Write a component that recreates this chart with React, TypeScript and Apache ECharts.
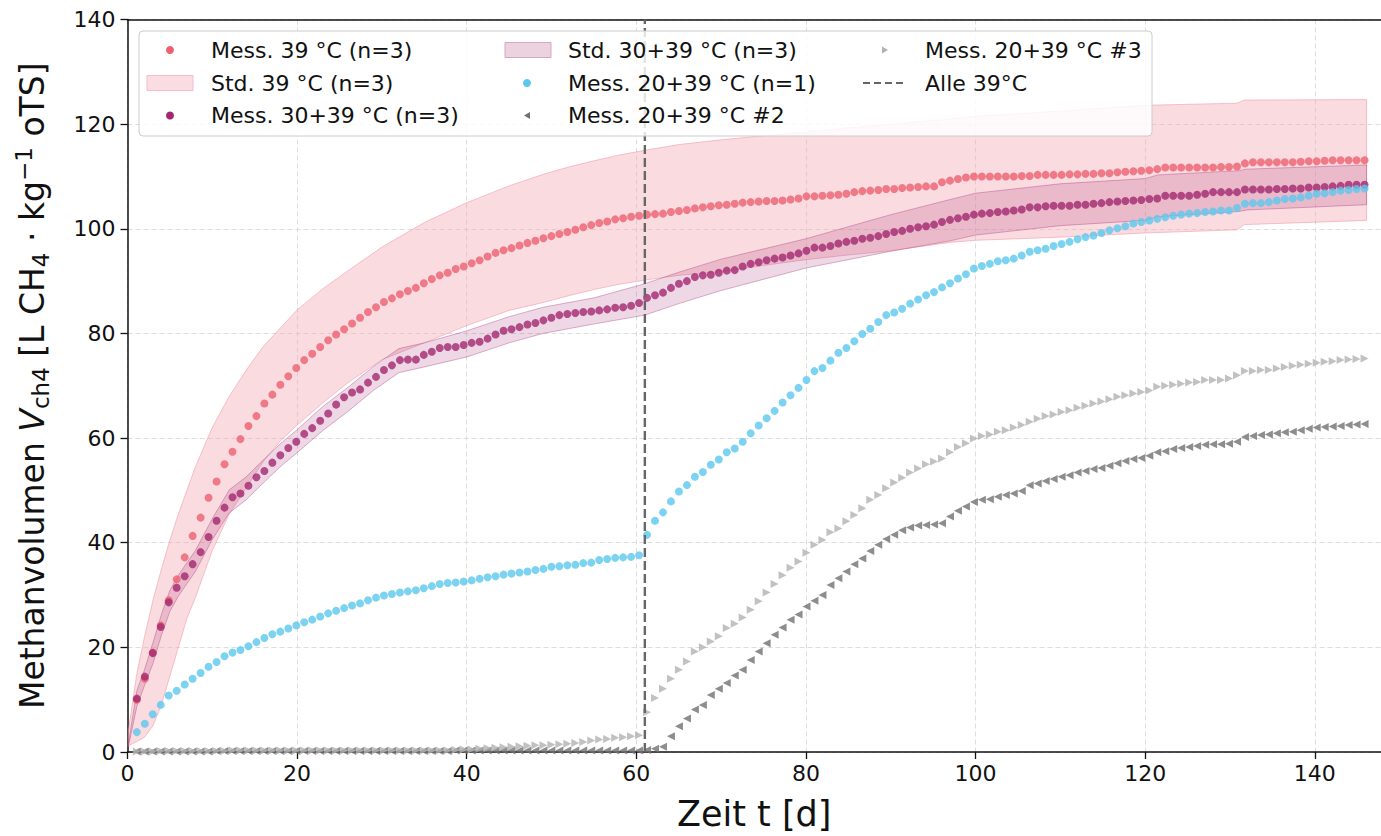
import React, { useEffect, useRef } from "react";
import * as echarts from "echarts";

const FONT = "DejaVu Sans";

// Sampling grid of the measurements (days)
const T_START = 1.1;
const T_STEP = 0.94;

const mess39 = [
  10.0, 14.0, 19.0, 24.2, 29.0,
  33.0, 37.2, 41.3, 44.8, 48.6, 51.7, 55.0, 57.4, 59.8, 62.3, 64.2, 66.6, 68.3, 70.2, 71.8, 73.4, 74.9, 76.1, 77.4, 78.7,
  79.8, 80.8, 81.9, 83.0, 84.1, 85.0, 86.0, 86.7, 87.5, 88.1, 88.7, 89.6, 90.4, 91.1, 91.6, 92.3, 92.8, 93.4, 94.0, 94.7,
  95.4, 95.9, 96.3, 96.8, 97.3, 97.7,
  98.2, 98.6, 99.0, 99.4, 99.8, 100.3, 100.7, 101.1, 101.4, 101.8, 102.0, 102.3, 102.5, 102.7, 102.8, 102.9, 103.2, 103.4,
  103.6, 103.9, 104.1, 104.3, 104.5, 104.6, 104.8, 105.0, 105.1, 105.2, 105.3, 105.3, 105.4, 105.6, 105.8, 106.2, 106.2,
  106.3, 106.4, 106.5, 106.7, 107.0, 107.2, 107.3, 107.4, 107.6, 107.6, 107.8, 107.9, 108.0, 108.1, 108.1, 108.9, 109.2, 109.5,
  109.8, 110.0, 110.0, 110.0, 110.0, 110.0, 110.0, 110.1, 110.1, 110.3, 110.3, 110.3, 110.3, 110.4, 110.4, 110.5, 110.5,
  110.6, 110.6, 110.8, 110.9, 111.0, 111.1, 111.2, 111.4, 111.7, 111.7, 111.7, 111.7, 111.7, 111.7, 111.7, 111.8, 111.8,
  111.9, 112.5, 112.7, 112.7, 112.7, 112.7, 112.7, 112.7, 112.8, 112.9, 112.9, 113.0, 113.1, 113.1, 113.1, 113.1, 113.1,
];

const mess3039 = [
  10.2, 14.4, 18.9, 23.9, 28.6, 31.4, 33.6, 35.9, 38.2, 41.1, 44.2, 46.7, 48.7, 49.4, 50.9, 52.5, 53.7, 55.3, 56.7, 58.1,
  59.3, 60.8, 61.9, 63.3, 64.7, 66.4, 67.8, 68.7, 69.3, 70.6, 71.7, 73.0, 73.9, 74.9, 75.0, 75.0, 75.9, 76.5, 77.2, 77.4,
  77.4, 77.8, 78.2, 78.4, 79.0, 79.8, 80.5, 80.8, 81.2, 81.7, 82.0,
  82.5, 83.0, 83.5, 83.7, 83.9, 84.1, 84.2, 84.4, 84.6, 84.9, 85.0, 85.3, 85.8, 86.8, 87.3, 87.8, 88.7, 89.5, 90.0, 90.8,
  91.1, 91.2, 91.6, 92.0, 92.1, 92.8, 93.3, 93.6, 94.0, 94.3, 94.5, 94.9, 95.3, 95.8, 96.4, 96.4, 96.7, 97.2, 97.5, 97.7,
  98.1, 98.3, 98.6, 99.0, 99.4, 99.6, 100.0, 100.3, 100.5, 100.8, 101.3, 101.7, 102.0,
  102.3, 102.7, 102.9, 103.0, 103.2, 103.3, 103.5, 103.7, 104.1, 104.1, 104.3, 104.4, 104.4, 104.4, 104.6, 104.6, 104.8,
  104.9, 105.1, 105.2, 105.3, 105.4, 105.5, 105.7, 105.8, 106.3, 106.3, 106.3, 106.3, 106.5, 106.7, 107.0, 107.0, 107.0,
  107.0, 107.5, 107.5, 107.5, 107.5, 107.6, 107.6, 107.7, 107.7, 107.9, 107.9, 108.0, 108.1, 108.2, 108.4, 108.4, 108.4,
];

const mess2039 = [
  3.8, 5.4, 7.2, 9.0, 10.8, 11.7, 12.9, 14.0, 15.1, 16.3, 17.2, 18.3, 19.0, 19.5, 20.2, 21.0, 21.8, 22.5, 23.0, 23.6,
  24.2, 24.8, 25.3, 25.9, 26.5, 27.0, 27.5, 28.0, 28.4, 29.0, 29.5, 29.9, 30.2, 30.5, 30.7, 30.9, 31.3, 31.7, 32.1, 32.3,
  32.4, 32.6, 32.8, 33.1, 33.4, 33.6, 33.9, 34.1, 34.3, 34.5, 34.8,
  35.0, 35.4, 35.5, 35.7, 35.8, 36.1, 36.2, 36.7, 36.9, 37.1, 37.2, 37.3, 37.6, 41.5, 44.2, 45.8, 47.9, 49.8, 51.0, 52.6,
  53.5, 54.9, 55.9, 57.3, 58.0, 59.3, 60.9, 62.4, 63.8, 65.2, 66.8, 68.2, 69.6, 71.1, 72.8, 73.4, 74.8, 76.3, 77.2, 78.5,
  79.9, 80.9, 82.2, 83.5, 84.0, 84.7, 85.7, 86.5, 87.3, 87.9, 88.8, 89.6, 90.5,
  91.3, 92.4, 92.9, 93.3, 93.8, 94.0, 94.3, 94.9, 95.6, 95.9, 96.2, 96.7, 97.1, 97.5, 98.0, 98.4, 98.7, 99.2, 99.7, 100.1,
  100.5, 101.0, 101.3, 101.6, 101.9, 102.2, 102.5, 102.7, 102.9, 103.0, 103.2, 103.3, 103.5, 103.5, 104.0, 104.8, 104.9,
  104.9, 105.1, 105.4, 105.7, 105.8, 106.0, 106.3, 106.7, 106.8, 107.0, 107.3, 107.4, 107.6, 107.7,
];

const mess2039n2 = [
  0.1, 0.1, 0.1, 0.1, 0.1, 0.1, 0.1, 0.1, 0.1, 0.1, 0.2, 0.2, 0.2, 0.2, 0.2, 0.2, 0.2, 0.2, 0.2, 0.2,
  0.2, 0.2, 0.2, 0.2, 0.2, 0.2, 0.2, 0.2, 0.2, 0.2, 0.2, 0.2, 0.2, 0.2, 0.2, 0.2, 0.2, 0.2, 0.2, 0.2,
  0.3, 0.3, 0.3, 0.3, 0.3, 0.3, 0.3, 0.3, 0.3, 0.3, 0.3, 0.3, 0.3, 0.3, 0.3, 0.3, 0.3, 0.3, 0.3, 0.3,
  0.3, 0.3, 0.3, 0.3,
  0.4, 0.6, 1.0, 3.0, 4.9, 6.4, 8.1, 9.0, 10.9, 12.1,
  13.2, 14.6, 15.7, 17.6, 19.2, 20.8, 22.4, 23.8, 25.3, 26.3,
  27.8, 28.9, 30.0, 31.9, 33.2, 34.5, 35.9, 37.0, 38.4, 39.6,
  40.7, 41.5, 42.4, 42.9, 43.3, 43.4, 43.5, 43.7, 45.0, 46.1,
  46.9, 47.8, 48.2, 48.3, 48.8, 49.1, 49.4, 49.9, 51.0, 51.3,
  51.8, 52.2, 52.6, 52.9, 53.4, 53.7, 54.1, 54.3, 54.7, 55.2,
  55.6, 56.0, 56.2, 56.6, 57.3, 57.5, 57.9, 58.1, 58.3, 58.5,
  58.7, 58.8, 58.8, 58.9, 59.3, 60.2, 60.4, 60.6, 60.7, 60.9,
  61.1, 61.2, 61.5, 61.8, 62.0, 62.1, 62.2, 62.3, 62.5, 62.6,
  62.7,
];

const mess2039n3 = [
  0.1, 0.1, 0.1, 0.2, 0.2, 0.2, 0.2, 0.2, 0.2, 0.2, 0.2, 0.2, 0.3, 0.3, 0.3, 0.3, 0.3, 0.3, 0.3, 0.3,
  0.3, 0.3, 0.3, 0.3, 0.3, 0.3, 0.3, 0.3, 0.3, 0.3, 0.3, 0.3, 0.3, 0.3, 0.3, 0.3, 0.3, 0.3, 0.3, 0.3,
  0.4, 0.5, 0.5, 0.6, 0.7, 0.8, 0.9, 1.0, 1.1, 1.2, 1.3, 1.3, 1.4, 1.5, 1.6, 1.7, 1.9, 2.2, 2.4, 2.5,
  2.7, 2.8, 3.0, 3.2,
  7.6, 10.3, 12.1, 14.0, 15.7, 17.3, 19.2, 20.0, 21.1, 22.1,
  23.7, 24.5, 25.7, 27.2, 28.8, 30.5, 32.1, 33.8, 35.2, 36.4,
  38.1, 39.6, 40.5, 42.0, 42.7, 44.1, 45.3, 46.6, 48.2, 49.1,
  50.4, 51.5, 52.4, 53.4, 54.2, 55.0, 55.5, 56.1, 57.3, 58.3,
  59.0, 59.9, 60.4, 60.7, 61.2, 61.5, 62.0, 62.5, 63.1, 63.7,
  64.2, 64.5, 65.0, 65.3, 65.8, 66.2, 66.6, 67.0, 67.4, 67.9,
  68.2, 68.5, 68.8, 69.1, 69.8, 70.0, 70.2, 70.4, 70.6, 70.7,
  71.1, 71.1, 71.1, 71.4, 72.0, 72.8, 72.8, 73.0, 73.0, 73.3,
  73.6, 73.8, 74.0, 74.2, 74.4, 74.6, 74.7, 74.9, 75.0, 75.1,
  75.2,
];

// Standard deviation bands
const std39Days = [0.1, 1.1, 2, 3, 4, 5, 6, 7, 8, 10, 12, 14, 16, 18, 20, 23, 26, 30, 35, 40, 45, 49, 52, 55, 58, 61, 65, 70, 75, 80, 85, 90, 97, 100, 110, 120, 130.8, 131.7, 146.1];
const std39Upper = [4, 15, 22, 29, 35, 40.5, 45.5, 50, 54.5, 62, 68, 73, 77.5, 81, 84.5, 88.5, 92, 96.5, 101.2, 105, 108.2, 110.4, 111.8, 113, 114.1, 115, 116.1, 117, 117.8, 118.5, 119.3, 120, 121, 121.5, 122.5, 123.6, 124, 124.6, 124.7];
const std39Lower = [1.2, 2, 2.8, 5, 9, 14.5, 20, 25.5, 29.5, 38.5, 45.5, 50.5, 55.5, 59.4, 62.5, 66.7, 70.6, 75, 78.2, 81.5, 84.4, 85.9, 87.2, 88.4, 89.4, 90.2, 91.1, 91.8, 93.0, 94.1, 95.0, 95.8, 97.4, 97.8, 98.4, 99.2, 99.8, 100.8, 101.6];

const std3039Days = [0.1, 1.1, 2, 3, 4, 5, 6, 8, 10, 12, 14, 16, 18, 20, 23, 26, 29, 32, 35, 40, 45, 49, 55, 61, 65, 70, 80, 90, 97, 100, 110, 120, 121.5, 131, 132, 146.1];
const std3039Upper = [1.6, 11.7, 15.7, 20.9, 26.3, 30.9, 33.8, 38.5, 44.6, 50.1, 52.6, 55.8, 58.9, 61.6, 66.0, 69.7, 73.7, 77.1, 78.2, 80.5, 83.2, 85.0, 86.8, 89.5, 91.7, 94.2, 98.1, 102.7, 105.6, 106.8, 108.6, 109.6, 110.3, 111.1, 111.4, 112.2];
const std3039Lower = [1.0, 8.7, 12.7, 16.9, 22.3, 26.9, 29.8, 34.5, 40.6, 45.7, 48.2, 51.4, 54.5, 57.2, 61.4, 65.1, 69.1, 72.5, 73.6, 75.5, 78.2, 80.0, 81.8, 83.5, 85.7, 88.2, 92.5, 95.7, 97.7, 98.8, 100.6, 101.6, 102.3, 103.3, 103.6, 104.6];

const switchDay = 61;
const xTicks = [0, 20, 40, 60, 80, 100, 120, 140];

const C_RED = "#EE6070";
const C_PURPLE = "#A3286F";
const C_BLUE = "#5BC8EE";
const C_DARK = "#707070";
const C_LIGHT = "#B2B2B2";

const days = mess39.map((_, i) => Math.round((T_START + T_STEP * i) * 100) / 100);
const pts = (vals: number[]) => vals.map((v, i) => [days[i], v]);

function band(name: string, bd: number[], up: number[], lo: number[], fill: string, stroke: string, z: number) {
  return {
    type: "custom",
    name,
    z,
    silent: true,
    data: [[0, 0]],
    encode: { x: 0, y: 1 },
    renderItem: (_p: any, api: any) => {
      const poly: number[][] = [];
      for (let i = 0; i < bd.length; i++) poly.push(api.coord([bd[i], up[i]]));
      for (let i = bd.length - 1; i >= 0; i--) poly.push(api.coord([bd[i], lo[i]]));
      return { type: "polygon", shape: { points: poly }, style: { fill, stroke, lineWidth: 1, lineJoin: "round" } };
    },
  };
}

const legendRows = [50, 83, 115.5];
const LEG_FS = 22;

function legendText(x: number, y: number, text: string) {
  return {
    type: "text",
    x,
    y,
    z: 102,
    style: { text, fontSize: LEG_FS, fontFamily: FONT, fill: "#111", verticalAlign: "middle", align: "left" },
  };
}

export default function App() {
  const ref = useRef<HTMLDivElement>(null);
  useEffect(() => {
    if (!ref.current) return;
    const chart = echarts.init(ref.current, null, { renderer: "svg" });
    const axisLineStyle = { color: "#111", width: 1.5 };
    const option: any = {
      animation: false,
      backgroundColor: "#fff",
      grid: { left: 127.5, right: 0, top: 19.5, bottom: 82, containLabel: false },
      xAxis: [
        {
          type: "value",
          min: 0,
          max: 147.8,
          interval: 20,
          name: "Zeit t [d]",
          nameLocation: "middle",
          nameGap: 44,
          nameTextStyle: { fontSize: 35, fontFamily: FONT, color: "#111" },
          axisLine: { show: true, onZero: false, lineStyle: axisLineStyle },
          axisTick: { show: true, inside: false, length: 7, lineStyle: { color: "#111", width: 1.3 } },
          axisLabel: {
            fontSize: 22,
            fontFamily: FONT,
            color: "#111",
            margin: 10,
            showMaxLabel: false,
            formatter: (v: number) => (xTicks.includes(v) ? String(v) : ""),
          },
          splitLine: { show: true, lineStyle: { color: "#dddddd", width: 1, type: [5, 3] } },
        },
        {
          type: "value",
          position: "top",
          min: 0,
          max: 147.8,
          axisLine: { show: true, onZero: false, lineStyle: axisLineStyle },
          axisTick: { show: false },
          axisLabel: { show: false },
          splitLine: { show: false },
        },
      ],
      yAxis: {
        type: "value",
        min: 0,
        max: 140,
        interval: 20,
        name: "{a|Methanvolumen }{i|V}{s|ch4}{a| [L CH}{s|4}{a| · kg}{p|−1}{a| oTS]}",
        nameLocation: "middle",
        nameGap: 75,
        nameTextStyle: {
          fontSize: 33,
          fontFamily: FONT,
          color: "#111",
          rich: {
            a: { fontSize: 33, fontFamily: FONT, color: "#111", lineHeight: 40, verticalAlign: "middle" },
            i: { fontSize: 33, fontFamily: FONT, fontStyle: "italic", color: "#111", lineHeight: 40, verticalAlign: "middle" },
            s: { fontSize: 23, fontFamily: FONT, color: "#111", lineHeight: 22, verticalAlign: "bottom" },
            p: { fontSize: 23, fontFamily: FONT, color: "#111", lineHeight: 22, verticalAlign: "top" },
          },
        },
        axisLine: { show: true, onZero: false, lineStyle: axisLineStyle },
        axisTick: { show: true, inside: false, length: 7, lineStyle: { color: "#111", width: 1.3 } },
        axisLabel: { fontSize: 22, fontFamily: FONT, color: "#111", margin: 12 },
        splitLine: { show: true, lineStyle: { color: "#dddddd", width: 1, type: [5, 3] } },
      },
      series: [
        band("Std. 39 °C (n=3)", std39Days, std39Upper, std39Lower, "rgba(244,170,182,0.42)", "rgba(240,150,165,0.55)", 1),
        band("Std. 30+39 °C (n=3)", std3039Days, std3039Upper, std3039Lower, "rgba(163,40,111,0.18)", "rgba(163,40,111,0.35)", 2),
        {
          type: "scatter", name: "Mess. 39 °C (n=3)", z: 3, symbol: "circle", symbolSize: 8,
          itemStyle: { color: C_RED }, data: pts(mess39),
        },
        {
          type: "scatter", name: "Mess. 30+39 °C (n=3)", z: 4, symbol: "circle", symbolSize: 8,
          itemStyle: { color: C_PURPLE }, data: pts(mess3039),
        },
        {
          type: "scatter", name: "Mess. 20+39 °C (n=1)", z: 5, symbol: "circle", symbolSize: 8,
          itemStyle: { color: C_BLUE }, data: pts(mess2039),
        },
        {
          type: "scatter", name: "Mess. 20+39 °C #2", z: 6, symbol: "triangle", symbolSize: 8, symbolRotate: 90,
          itemStyle: { color: C_DARK }, data: pts(mess2039n2),
        },
        {
          type: "scatter", name: "Mess. 20+39 °C #3", z: 7, symbol: "triangle", symbolSize: 8, symbolRotate: -90,
          itemStyle: { color: C_LIGHT }, data: pts(mess2039n3),
        },
        {
          type: "line", name: "Alle 39°C", z: 8, symbol: "none",
          lineStyle: { color: "#666", width: 2.4, type: [9, 4] },
          data: [[switchDay, 0], [switchDay, 140]],
        },
      ],
      graphic: [
        {
          type: "rect", z: 100,
          shape: { x: 139, y: 31, width: 1013, height: 105, r: 4 },
          style: { fill: "rgba(255,255,255,0.82)", stroke: "#cccccc", lineWidth: 1 },
        },
        // column 1
        { type: "circle", z: 101, shape: { cx: 170, cy: legendRows[0], r: 4 }, style: { fill: C_RED } },
        legendText(211, legendRows[0], "Mess. 39 °C (n=3)"),
        {
          type: "rect", z: 101, shape: { x: 147, y: legendRows[1] - 7.5, width: 46, height: 15 },
          style: { fill: "#FADDE2", stroke: "#F5BDC7", lineWidth: 1 },
        },
        legendText(211, legendRows[1], "Std. 39 °C (n=3)"),
        { type: "circle", z: 101, shape: { cx: 170, cy: legendRows[2], r: 4 }, style: { fill: C_PURPLE } },
        legendText(211, legendRows[2], "Mess. 30+39 °C (n=3)"),
        // column 2
        {
          type: "rect", z: 101, shape: { x: 505, y: legendRows[0] - 7.5, width: 46, height: 15 },
          style: { fill: "#ECD1DE", stroke: "#D7A6BF", lineWidth: 1 },
        },
        legendText(568, legendRows[0], "Std. 30+39 °C (n=3)"),
        { type: "circle", z: 101, shape: { cx: 527, cy: legendRows[1], r: 4 }, style: { fill: C_BLUE } },
        legendText(568, legendRows[1], "Mess. 20+39 °C (n=1)"),
        {
          type: "polygon", z: 101,
          shape: { points: [[524, legendRows[2]], [530, legendRows[2] - 3.5], [530, legendRows[2] + 3.5]] },
          style: { fill: C_DARK },
        },
        legendText(568, legendRows[2], "Mess. 20+39 °C #2"),
        // column 3
        {
          type: "polygon", z: 101,
          shape: { points: [[888, legendRows[0]], [882, legendRows[0] - 3.5], [882, legendRows[0] + 3.5]] },
          style: { fill: C_LIGHT },
        },
        legendText(925, legendRows[0], "Mess. 20+39 °C #3"),
        {
          type: "line", z: 101,
          shape: { x1: 863, y1: legendRows[1], x2: 903, y2: legendRows[1] },
          style: { stroke: "#666", lineWidth: 2.2, lineDash: [7, 4] },
        },
        legendText(925, legendRows[1], "Alle 39°C"),
      ],
    };
    chart.setOption(option);
    return () => chart.dispose();
  }, []);
  return (
    <div
      ref={ref}
      style={{ position: "fixed", left: 0, top: 0, width: 1381, height: 836, background: "#fff" }}
    />
  );
}
